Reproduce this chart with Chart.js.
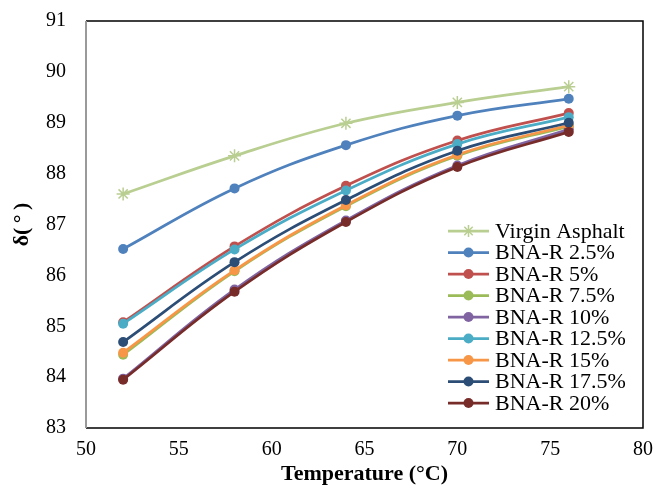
<!DOCTYPE html>
<html>
<head>
<meta charset="utf-8">
<script src="https://cdn.jsdelivr.net/npm/chart.js@4"></script>
<style>
html,body{margin:0;padding:0;background:#fff;}
canvas{display:block;}
</style>
</head>
<body>
<canvas id="c" width="670" height="488"></canvas>
<script>
const temperatures = [52, 58, 64, 70, 76];
const seriesNames = ['Virgin Asphalt','BNA-R 2.5%','BNA-R 5%','BNA-R 7.5%','BNA-R 10%','BNA-R 12.5%','BNA-R 15%','BNA-R 17.5%','BNA-R 20%'];
const virginAsphalt = [87.60, 88.35, 88.99, 89.40, 89.71];
const bnaR2_5  = [86.52, 87.71, 88.56, 89.14, 89.47];
const bnaR5    = [85.08, 86.57, 87.76, 88.65, 89.19];
const bnaR7_5  = [84.44, 86.08, 87.36, 88.35, 88.93];
const bnaR10   = [83.97, 85.72, 87.08, 88.16, 88.87];
const bnaR12_5 = [85.05, 86.51, 87.67, 88.58, 89.11];
const bnaR15   = [84.48, 86.10, 87.38, 88.37, 88.95];
const bnaR17_5 = [84.69, 86.26, 87.48, 88.45, 89.00];
const bnaR20   = [83.95, 85.68, 87.05, 88.13, 88.82];
const seriesValues = [virginAsphalt, bnaR2_5, bnaR5, bnaR7_5, bnaR10, bnaR12_5, bnaR15, bnaR17_5, bnaR20];
const seriesColors = ['#B9CE91','#4F81BD','#C0504D','#9BBB59','#8064A2','#4BACC6','#F79646','#2C4D75','#772C2A'];
const xTicks = [50, 55, 60, 65, 70, 75, 80];
const yTicks = [83, 84, 85, 86, 87, 88, 89, 90, 91];

const FONT = "'Liberation Serif','Times New Roman',serif";

const datasets = seriesValues.map((vals, i) => ({
  label: seriesNames[i],
  data: temperatures.map((t, j) => ({x: t, y: vals[j]})),
  borderColor: seriesColors[i],
  backgroundColor: seriesColors[i],
  borderWidth: 2.75,
  tension: 0.4,
  pointStyle: i === 0 ? 'star' : 'circle',
  pointRadius: i === 0 ? 6.5 : 5,
  pointBorderWidth: i === 0 ? 1.5 : 0,
  pointBorderColor: seriesColors[i],
  pointBackgroundColor: seriesColors[i],
  order: seriesValues.length - i,
  fill: false
}));

const framePlugin = {
  id: 'frame',
  afterDatasetsDraw(chart) {
    const {ctx, chartArea: a} = chart;
    ctx.save();
    ctx.lineWidth = 1.5;
    ctx.strokeStyle = '#000';
    ctx.beginPath();
    ctx.moveTo(a.left, a.top); ctx.lineTo(a.right, a.top);
    ctx.lineTo(a.right, a.bottom); ctx.lineTo(a.left, a.bottom);
    ctx.stroke();
    ctx.strokeStyle = '#9a9a9a';
    ctx.lineWidth = 2;
    ctx.beginPath();
    ctx.moveTo(a.left, a.top); ctx.lineTo(a.left, a.bottom);
    ctx.stroke();
    ctx.restore();
  }
};

const legendPlugin = {
  id: 'customLegend',
  afterDraw(chart) {
    const {ctx} = chart;
    ctx.save();
    ctx.font = '22px ' + FONT;
    ctx.textBaseline = 'middle';
    ctx.textAlign = 'left';
    const x0 = 448, x1 = 489, tx = 495, y0 = 231, dy = 21.5;
    chart.data.datasets.forEach((ds, i) => {
      const y = y0 + i * dy;
      ctx.strokeStyle = ds.borderColor;
      ctx.lineWidth = 2.75;
      ctx.beginPath(); ctx.moveTo(x0, y); ctx.lineTo(x1, y); ctx.stroke();
      const cx = (x0 + x1) / 2;
      if (i === 0) {
        ctx.lineWidth = 1.5;
        const r = 6;
        ctx.beginPath();
        ctx.moveTo(cx, y - r); ctx.lineTo(cx, y + r);
        ctx.moveTo(cx - r*0.7, y - r*0.7); ctx.lineTo(cx + r*0.7, y + r*0.7);
        ctx.moveTo(cx - r*0.7, y + r*0.7); ctx.lineTo(cx + r*0.7, y - r*0.7);
        ctx.stroke();
      } else {
        ctx.fillStyle = ds.borderColor;
        ctx.beginPath(); ctx.arc(cx, y, 5, 0, Math.PI * 2); ctx.fill();
      }
      ctx.fillStyle = '#000';
      ctx.fillText(ds.label, tx, y + 1);
    });
    ctx.restore();
  }
};

new Chart(document.getElementById('c'), {
  type: 'line',
  data: { datasets },
  options: {
    responsive: false,
    animation: false,
    events: [],
    layout: { padding: { left: 0, right: 27, top: 21, bottom: 0 } },
    plugins: { legend: { display: false }, tooltip: { enabled: false } },
    scales: {
      x: {
        type: 'linear',
        min: xTicks[0], max: xTicks[xTicks.length - 1],
        afterBuildTicks(s) { s.ticks = xTicks.map(v => ({value: v})); },
        afterFit(s) { s.height = 60; s.paddingLeft = 0; s.paddingRight = 0; },
        grid: { display: false, drawTicks: false },
        border: { display: false },
        ticks: { padding: 10, color: '#000', font: { family: FONT, size: 20 }, maxRotation: 0 },
        title: { display: true, text: 'Temperature (°C)', color: '#000',
                 font: { family: FONT, size: 22, weight: 'bold' }, padding: { top: 0, bottom: 0 } }
      },
      y: {
        type: 'linear',
        min: yTicks[0], max: yTicks[yTicks.length - 1],
        afterBuildTicks(s) { s.ticks = yTicks.map(v => ({value: v})); },
        afterFit(s) { s.width = 86; s.paddingTop = 0; s.paddingBottom = 0; },
        grid: { display: false, drawTicks: false },
        border: { display: false },
        ticks: { padding: 20, color: '#000', font: { family: FONT, size: 20 } },
        title: { display: true, text: 'δ(\u2009°\u2009)', color: '#000',
                 font: { family: FONT, size: 22, weight: 'bold' }, padding: { top: 9, bottom: 0 } }
      }
    }
  },
  plugins: [framePlugin, legendPlugin]
});
</script>
</body>
</html>
